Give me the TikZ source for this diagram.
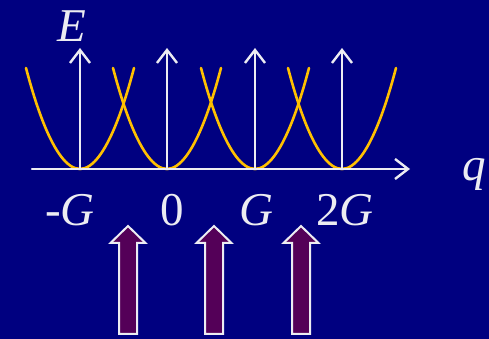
\documentclass[tikz,border=0pt]{standalone}
\usepackage{fontspec}
\setmainfont{Liberation Serif}
\usetikzlibrary{arrows.meta}
\definecolor{bgnavy}{RGB}{0,0,128}
\definecolor{axwhite}{RGB}{236,236,242}
\definecolor{bandorange}{RGB}{255,192,0}
\definecolor{blockpurple}{RGB}{84,0,88}
\tikzset{
    lab/.style={
        font=\fontsize{47}{52}\selectfont, text=axwhite, inner sep=0pt
    }
}

\begin{document}
\begin{tikzpicture}[x=1pt,y=1pt, line cap=round, line join=round]

% axis + band styles
\tikzset{
  axis/.style={draw=axwhite, line width=2.4pt, -{Straight Barb[length=13pt,width=20pt,line width=2.4pt]}},
  band/.style={draw=bandorange, line width=2.6pt},
  block/.style={draw=axwhite, fill=blockpurple, line width=2pt, line cap=butt, line join=miter},
}

  % background
  \fill[bgnavy] (0,0) rectangle (489,339);
  \useasboundingbox (0,0) rectangle (489,339);

  % points on the axis
  \coordinate (Ax) at (32,170);
  \coordinate (Bx) at (410,170);
  \coordinate (Gm) at (80,170);
  \coordinate (Gz) at (167,170);
  \coordinate (Gp) at (255,170);
  \coordinate (Gpp) at (342,170);
  \coordinate (Tm) at (80,291);
  \coordinate (Tz) at (167,291);
  \coordinate (Tp) at (255,291);
  \coordinate (Tpp) at (342,291);

  % parabolas
  \draw[band] (26,271) parabola bend (Gm) (134,271);
  \draw[band] (113,271) parabola bend (Gz) (221,271);
  \draw[band] (201,271) parabola bend (Gp) (309,271);
  \draw[band] (288,271) parabola bend (Gpp) (396,271);

  % axes
  \draw[axis] (Ax) -- (Bx);
  \draw[axis] (Gm) -- (Tm);
  \draw[axis] (Gz) -- (Tz);
  \draw[axis] (Gp) -- (Tp);
  \draw[axis] (Gpp) -- (Tpp);

  % labels
  \node[lab, anchor=base] (lE) at (72,297) {\textit{E}};
  \node[lab, anchor=base] (lq) at (474,158) {\textit{q}};
  \node[lab, anchor=base] (lGm) at (70,113) {\textit{-G}};
  \node[lab, anchor=base] (lGz) at (172,113) {0};
  \node[lab, anchor=base] (lGp) at (256,113) {\textit{G}};
  \node[lab, anchor=base] (lGpp) at (345,113) {2\textit{G}};

  % block arrows
  \draw[block] (119,5) -- (119,96) -- (110.5,96) -- (128,113) -- (145.5,96) -- (137,96) -- (137,5) -- cycle;
  \draw[block] (205,5) -- (205,96) -- (196.5,96) -- (214,113) -- (231.5,96) -- (223,96) -- (223,5) -- cycle;
  \draw[block] (292,5) -- (292,96) -- (283.5,96) -- (301,113) -- (318.5,96) -- (310,96) -- (310,5) -- cycle;

\end{tikzpicture}
\end{document}
